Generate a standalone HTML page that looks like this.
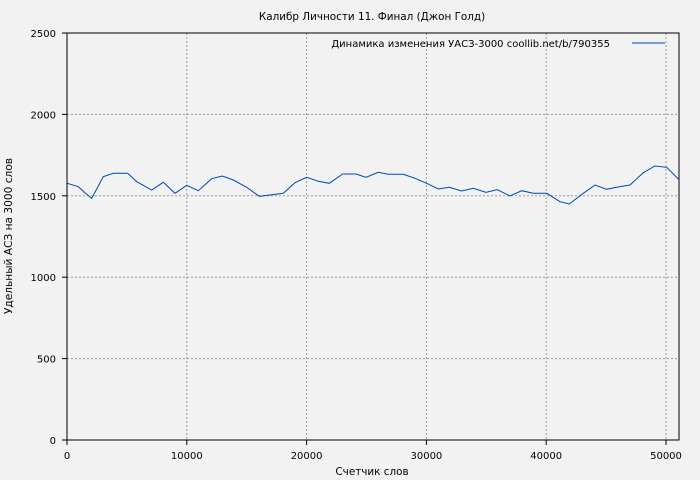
<!DOCTYPE html>
<html><head><meta charset="utf-8"><style>body{margin:0;background:#f2f2f2}svg{display:block}text{font-family:"DejaVu Sans",sans-serif;font-size:10px;fill:#000}</style></head><body>
<svg width="700" height="480" xmlns="http://www.w3.org/2000/svg">
<rect width="700" height="480" fill="#f2f2f2"/>
<g stroke="#999" stroke-dasharray="2,2" stroke-width="1">
<line x1="186.8" y1="33" x2="186.8" y2="440"/><line x1="306.6" y1="33" x2="306.6" y2="440"/><line x1="426.4" y1="33" x2="426.4" y2="440"/><line x1="546.2" y1="33" x2="546.2" y2="440"/><line x1="666" y1="33" x2="666" y2="440"/>
<line x1="67" y1="358.6" x2="679" y2="358.6"/><line x1="67" y1="277.2" x2="679" y2="277.2"/><line x1="67" y1="195.8" x2="679" y2="195.8"/><line x1="67" y1="114.4" x2="679" y2="114.4"/>
</g>
<polyline fill="none" stroke="#0047b3" stroke-width="1" points="67.3,183.3 78.3,186.7 85,192.7 91.7,198.3 103.3,176.7 113.3,173.3 127.7,173.3 136.7,181.7 151.7,190 163.3,182.3 175,193.3 186.7,185.3 198.3,190.7 211.7,178.7 222.3,176 233.3,180 246.7,187.3 259.3,196.3 270,195 283.3,193.3 295,182.7 306.7,177.3 318.3,181.3 329.3,183.3 342.7,174 356,174 366,177.3 378.3,172.3 388.3,174.3 403.3,174.3 415,178.3 426.7,183.3 438.3,189 449.3,187.3 461.7,191 473.3,188.3 486,192.3 497.3,189.7 510,196 521.7,190.7 533.3,193.3 546.7,193.3 560,201.7 569.3,204 583.3,193.3 595,185 606.7,189.3 616.7,187.3 630,185 643.3,172.7 655,166 666.7,167.3 678.3,179"/>
<rect x="67" y="33" width="612" height="407" fill="none" stroke="#000" stroke-width="1"/>
<g stroke="#000"><line x1="67" y1="440" x2="67" y2="445"/><line x1="186.8" y1="440" x2="186.8" y2="445"/><line x1="306.6" y1="440" x2="306.6" y2="445"/><line x1="426.4" y1="440" x2="426.4" y2="445"/><line x1="546.2" y1="440" x2="546.2" y2="445"/><line x1="666" y1="440" x2="666" y2="445"/>
<line x1="62" y1="440" x2="67" y2="440"/><line x1="62" y1="358.6" x2="67" y2="358.6"/><line x1="62" y1="277.2" x2="67" y2="277.2"/><line x1="62" y1="195.8" x2="67" y2="195.8"/><line x1="62" y1="114.4" x2="67" y2="114.4"/><line x1="62" y1="33" x2="67" y2="33"/></g>
<g text-anchor="middle"><text x="67" y="459">0</text><text x="186.8" y="459">10000</text><text x="306.6" y="459">20000</text><text x="426.4" y="459">30000</text><text x="546.2" y="459">40000</text><text x="666" y="459">50000</text>
<text x="372" y="475" style="font-size:10.4px">Счетчик слов</text><text x="372" y="20" style="font-size:10.4px">Калибр Личности 11. Финал (Джон Голд)</text>
<text transform="translate(12,236) rotate(-90)" style="font-size:10.6px">Удельный АСЗ на 3000 слов</text></g>
<g text-anchor="end"><text x="56" y="444">0</text><text x="56" y="362.6">500</text><text x="56" y="281.2">1000</text><text x="56" y="199.8">1500</text><text x="56" y="118.4">2000</text><text x="56" y="37">2500</text>
<text x="610" y="47">Динамика изменения УАСЗ-3000 coollib.net/b/790355</text></g>
<line x1="632" y1="43" x2="665" y2="43" stroke="#0047b3"/>
</svg>
</body></html>
